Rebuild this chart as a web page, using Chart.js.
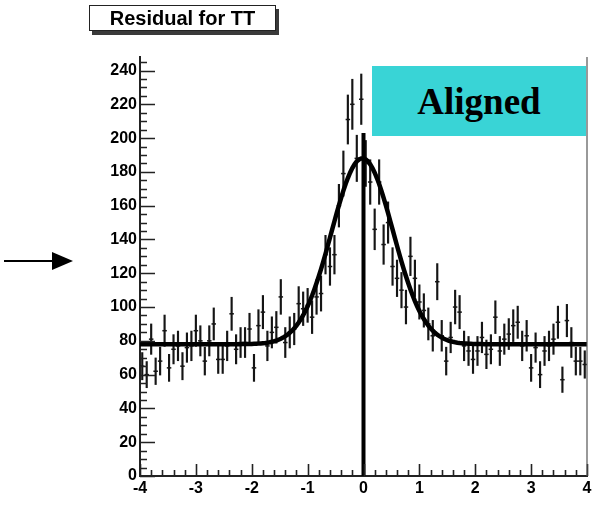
<!DOCTYPE html>
<html>
<head>
<meta charset="utf-8">
<script src="https://cdn.jsdelivr.net/npm/chart.js@4"></script>
<style>
  html, body { margin: 0; padding: 0; background: #fff; }
  #wrap { position: relative; width: 596px; height: 522px; overflow: hidden; }
  #wrap canvas { position: absolute; left: 0; top: 0; }
  .title {
    position: absolute; left: 89px; top: 5px; width: 185px; height: 24px;
    border: 1px solid #222; background: #fff; box-shadow: 3px 4px 0 #3a3a3a;
    font: bold 20px "Liberation Sans", Arial, sans-serif; color: #000;
    text-align: center; line-height: 25px;
  }
  .tag {
    position: absolute; left: 372px; top: 66px; width: 214px; height: 70px;
    background: #39d4d6; color: #000;
    display: flex; align-items: center; justify-content: center;
    font: bold 37px "Liberation Serif", "Times New Roman", serif;
  }
  .tag span { display: block; line-height: 1; }
  svg.arrow { position: absolute; left: 0; top: 240px; }
</style>
</head>
<body>
<div id="wrap">
  <canvas id="c" width="596" height="522"></canvas>
  <div class="title">Residual for TT</div>
  <div class="tag"><span>Aligned</span></div>
  <svg class="arrow" width="80" height="40">
    <line x1="4" y1="21" x2="56" y2="21" stroke="#000" stroke-width="2"/>
    <polygon points="73,21 52,12 52,30" fill="#000"/>
  </svg>
</div>
<script>
// Histogram: 100 bins of width 0.08 between -4 and 4
const binCenters = [
  -3.96,-3.88,-3.80,-3.72,-3.64,-3.56,-3.48,-3.40,-3.32,-3.24,
  -3.16,-3.08,-3.00,-2.92,-2.84,-2.76,-2.68,-2.60,-2.52,-2.44,
  -2.36,-2.28,-2.20,-2.12,-2.04,-1.96,-1.88,-1.80,-1.72,-1.64,
  -1.56,-1.48,-1.40,-1.32,-1.24,-1.16,-1.08,-1.00,-0.92,-0.84,
  -0.76,-0.68,-0.60,-0.52,-0.44,-0.36,-0.28,-0.20,-0.12,-0.04,
   0.04, 0.12, 0.20, 0.28, 0.36, 0.44, 0.52, 0.60, 0.68, 0.76,
   0.84, 0.92, 1.00, 1.08, 1.16, 1.24, 1.32, 1.40, 1.48, 1.56,
   1.64, 1.72, 1.80, 1.88, 1.96, 2.04, 2.12, 2.20, 2.28, 2.36,
   2.44, 2.52, 2.60, 2.68, 2.76, 2.84, 2.92, 3.00, 3.08, 3.16,
   3.24, 3.32, 3.40, 3.48, 3.56, 3.64, 3.72, 3.80, 3.88, 3.96
];
const counts = [
   65, 60, 81, 62, 68, 86, 64, 75, 77, 65,
   76, 77, 86, 80, 68, 80, 90, 69, 69, 77,
   96, 75, 79, 79, 87, 64, 89, 97, 77, 85,
   88,106, 79, 85, 87,102, 99,101, 94,106,
  108,131,124,131,160,179,211,220,188,223,
  185,174,146,174,137,150,124,117,110,100,
  130,117,103, 98, 90, 83,115, 83, 68, 82,
  100, 97, 77, 74, 69, 74, 82, 72, 75, 94,
   74, 81, 84, 89, 91, 77, 83, 64, 76, 60,
   74, 77, 81, 91, 57, 92, 79, 68, 68, 66
];
const xTickValues = [-4, -3, -2, -1, 0, 1, 2, 3, 4];
const yTickValues = [0, 20, 40, 60, 80, 100, 120, 140, 160, 180, 200, 220, 240];

// Fit: constant + gaussian
const fitConst = 78;
const fitAmp = 110;
const fitMean = -0.02;
const fitSigma = 0.55;

// Vertical marker at zero
const markerX = 0;
const markerTop = 203;

const errorBars = binCenters.map((x, i) => {
  const e = Math.sqrt(counts[i]);
  return { x: x, y: [counts[i] - e, counts[i] + e] };
});
const binPoints = binCenters.map((x, i) => ({ x: x, y: counts[i] }));

const fitCurve = [];
for (let k = 0; k <= 200; k++) {
  const x = -4 + k * 0.04;
  const z = (x - fitMean) / fitSigma;
  fitCurve.push({ x: x, y: fitConst + fitAmp * Math.exp(-0.5 * z * z) });
}

// Inward tick marks (ROOT style) and right frame edge
const frameTicks = {
  id: 'frameTicks',
  afterDatasetsDraw(chart) {
    const { ctx, chartArea: a, scales: { x, y } } = chart;
    ctx.save();
    ctx.strokeStyle = '#222';
    ctx.lineWidth = 1.6;
    ctx.beginPath();
    for (let k = 0; k <= 40; k++) {
      const v = x.min + k * 0.2;
      const px = Math.round(x.getPixelForValue(v)) + 0.5;
      const len = k % 5 === 0 ? 12 : 6;
      ctx.moveTo(px, a.bottom);
      ctx.lineTo(px, a.bottom - len);
    }
    for (let v = 0; v <= y.max; v += 5) {
      const py = Math.round(y.getPixelForValue(v)) + 0.5;
      const len = v % 20 === 0 ? 15 : 7;
      ctx.moveTo(a.left, py);
      ctx.lineTo(a.left + len, py);
    }
    ctx.stroke();
    ctx.strokeStyle = '#555';
    ctx.lineWidth = 1.2;
    ctx.beginPath();
    ctx.moveTo(a.right, a.top);
    ctx.lineTo(a.right, a.bottom);
    ctx.stroke();
    ctx.restore();
  }
};

const tickFont = { family: '"Liberation Sans", Arial, sans-serif', size: 16, weight: 'bold' };

new Chart(document.getElementById('c'), {
  type: 'bar',
  data: {
    datasets: [
      {
        type: 'line', data: fitCurve, borderColor: '#000', borderWidth: 4.5,
        pointRadius: 0, tension: 0, fill: false, order: 0
      },
      {
        type: 'line', data: [{ x: markerX, y: 0 }, { x: markerX, y: markerTop }],
        borderColor: '#000', borderWidth: 4, pointRadius: 0, fill: false, order: 1
      },
      {
        type: 'scatter', data: binPoints, pointStyle: 'line',
        pointRadius: 2.25, borderColor: '#151515', borderWidth: 1.5, order: 2
      },
      {
        type: 'bar', data: errorBars, backgroundColor: '#151515',
        borderWidth: 0, barThickness: 1.5, order: 3
      }
    ]
  },
  options: {
    responsive: false,
    animation: false,
    events: [],
    layout: { padding: { left: 0, top: 57, right: 9, bottom: 0 } },
    plugins: { legend: { display: false }, tooltip: { enabled: false }, title: { display: false } },
    scales: {
      x: {
        type: 'linear', min: -4, max: 4, offset: false,
        grid: { display: false, drawTicks: false },
        border: { display: true, color: '#222', width: 2 },
        afterBuildTicks: s => { s.ticks = xTickValues.map(v => ({ value: v })); },
        afterFit: s => { s.height = 46; },
        ticks: { color: '#000', font: tickFont, padding: 3, maxRotation: 0, autoSkip: false }
      },
      y: {
        type: 'linear', min: 0, max: 248,
        grid: { display: false, drawTicks: false },
        border: { display: true, color: '#222', width: 2 },
        afterBuildTicks: s => { s.ticks = yTickValues.map(v => ({ value: v })); },
        afterFit: s => { s.width = 140; },
        ticks: { color: '#000', font: tickFont, padding: 3, autoSkip: false }
      }
    }
  },
  plugins: [frameTicks]
});
</script>
</body>
</html>
